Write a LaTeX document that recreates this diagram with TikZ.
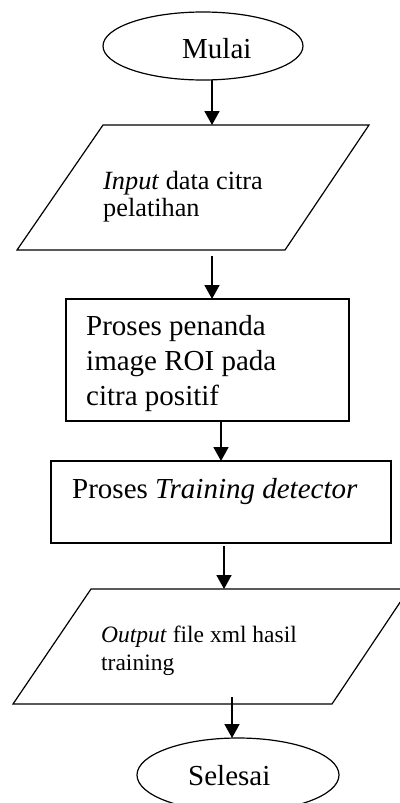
\documentclass[tikz,border=0pt]{standalone}
\usepackage{fontspec}
\setmainfont{Liberation Serif}
\usetikzlibrary{arrows.meta,shapes.geometric}

\tikzset{
  outline/.style={draw=black, line width=1.2pt, line join=miter},
  terminal/.style={outline, ellipse, inner sep=0pt},
  label/.style={anchor=base west, inner sep=0pt, text=black},
  flow/.style={draw=black, line width=1.8pt, -{Triangle[length=14pt,width=15pt]}},
  big/.style={font=\fontsize{29}{33}\selectfont},
  mid/.style={font=\fontsize{26.3}{30}\selectfont},
  small/.style={font=\fontsize{23.5}{28}\selectfont}
}

\begin{document}
\begin{tikzpicture}[x=1pt, y=-1pt]
  \useasboundingbox (0,0) rectangle (399,803);

  % start terminal
  \node[terminal, minimum width=200pt, minimum height=68pt] (mulai) at (203,46) {};
  \node[label, big] (mulaitext) at (182,58) {Mulai};

  % input data (parallelogram)
  \draw[outline] (103,125) -- (369,125) -- (285,250) -- (17,250) -- cycle;
  \node[label, mid] (in1) at (103,189) {\textit{Input} data citra};
  \node[label, mid] (in2) at (103,216) {pelatihan};

  % ROI marking step
  \node[outline, rectangle, minimum width=283pt, minimum height=122pt, inner sep=0pt] (roi) at (207.5,360) {};
  \node[label, big] (roi1) at (86,335) {Proses penanda};
  \node[label, big] (roi2) at (86,370) {image ROI pada};
  \node[label, big] (roi3) at (86,405) {citra positif};

  % training step
  \node[outline, rectangle, minimum width=340pt, minimum height=82pt, inner sep=0pt] (train) at (221,502) {};
  \node[label, big] (train1) at (72,498) {Proses \textit{Training detector}};

  % output (parallelogram)
  \draw[outline] (91,589) -- (409,589) -- (332,704) -- (13,704) -- cycle;
  \node[label, small] (out1) at (101,642) {\textit{Output} file xml hasil};
  \node[label, small] (out2) at (101,670) {training};

  % end terminal
  \node[terminal, minimum width=202pt, minimum height=74pt] (selesai) at (238,775) {};
  \node[label, big] (selesaitext) at (188,785) {Selesai};

  % connector end points
  \coordinate (a1s) at (212,80);  \coordinate (a1e) at (212,125);
  \coordinate (a2s) at (212,256); \coordinate (a2e) at (212,299);
  \coordinate (a3s) at (221,420); \coordinate (a3e) at (221,461);
  \coordinate (a4s) at (224,546); \coordinate (a4e) at (224,589);
  \coordinate (a5s) at (232,697); \coordinate (a5e) at (232,738);

  \draw[flow] (a1s) -- (a1e);
  \draw[flow] (a2s) -- (a2e);
  \draw[flow] (a3s) -- (a3e);
  \draw[flow] (a4s) -- (a4e);
  \draw[flow] (a5s) -- (a5e);
\end{tikzpicture}
\end{document}
